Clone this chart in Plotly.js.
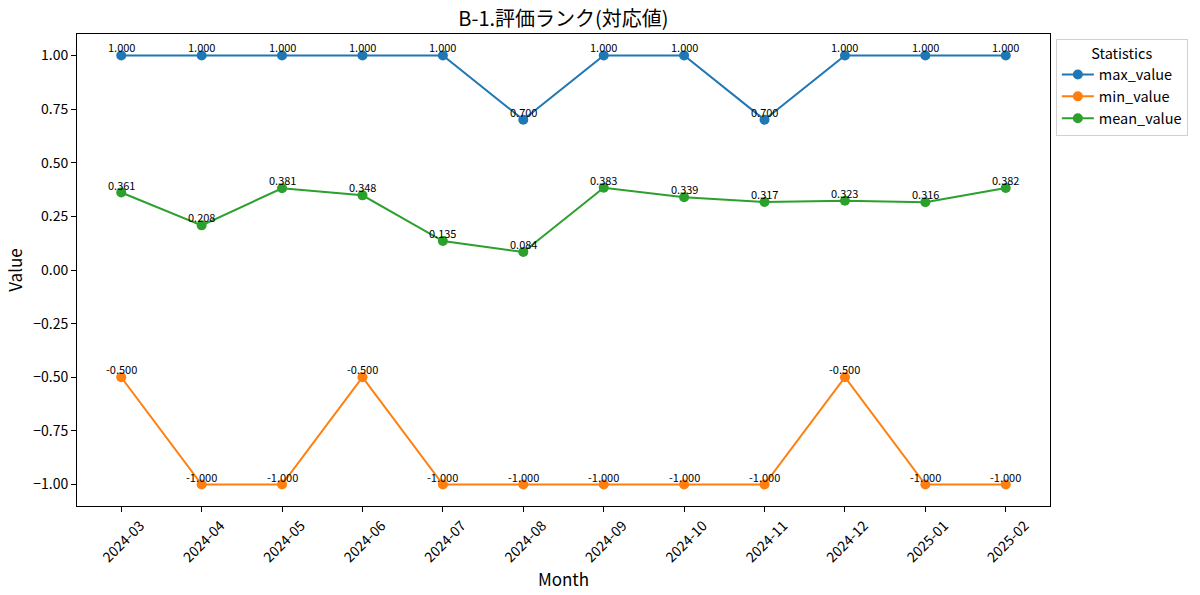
<!DOCTYPE html>
<html>
<head>
<meta charset="utf-8">
<script src="https://cdn.plot.ly/plotly-3.0.1.min.js"></script>
<style>
  html, body { margin: 0; padding: 0; background: #fff; }
  #chart { width: 1200px; height: 595px; }
</style>
</head>
<body>
<div id="chart"></div>
<script>
var months = ['2024-03', '2024-04', '2024-05', '2024-06', '2024-07', '2024-08',
              '2024-09', '2024-10', '2024-11', '2024-12', '2025-01', '2025-02'];
var maxValue = [1.0, 1.0, 1.0, 1.0, 1.0, 0.7, 1.0, 1.0, 0.7, 1.0, 1.0, 1.0];
var minValue = [-0.5, -1.0, -1.0, -0.5, -1.0, -1.0, -1.0, -1.0, -1.0, -0.5, -1.0, -1.0];
var meanValue = [0.361, 0.208, 0.381, 0.348, 0.135, 0.084, 0.383, 0.339, 0.317, 0.323, 0.316, 0.382];

var FONT = '"Noto Sans CJK JP", "Noto Sans", sans-serif';
var idx = months.map(function (m, i) { return i; });

var series = [
    { name: 'max_value', y: maxValue, color: '#1f77b4' },
    { name: 'min_value', y: minValue, color: '#ff7f0e' },
    { name: 'mean_value', y: meanValue, color: '#2ca02c' }
];

var traces = series.map(function (s) {
    return {
        x: idx,
        y: s.y,
        name: s.name,
        type: 'scatter',
        mode: 'lines+markers',
        line: { color: s.color, width: 2 },
        marker: { color: s.color, size: 10 },
        hoverinfo: 'x+y'
    };
});

// value labels above each point
var annotations = [];
series.forEach(function (s) {
    s.y.forEach(function (v, i) {
        annotations.push({
            x: i, y: v, xref: 'x', yref: 'y',
            text: v.toFixed(3),
            showarrow: false,
            xanchor: 'center', yanchor: 'bottom',
            yshift: -2,
            font: { family: FONT, size: 11, color: '#000' }
        });
    });
});

var layout = {
    width: 1200,
    height: 595,
    margin: { l: 77, r: 148, t: 34, b: 89 },
    paper_bgcolor: '#fff',
    plot_bgcolor: '#fff',
    font: { family: FONT, size: 14, color: '#000' },
    title: {
        text: 'B-1.評価ランク(対応値)',
        font: { family: FONT, size: 20, color: '#000' },
        xref: 'paper', x: 0.5, xanchor: 'center',
        yref: 'container', y: 0.968, yanchor: 'middle'
    },
    xaxis: {
        range: [-0.55, 11.55],
        tickmode: 'array',
        tickvals: idx,
        ticktext: months,
        tickangle: -45,
        ticklabelshift: 19,
        ticks: 'outside', ticklen: 5, tickwidth: 1, tickcolor: '#000',
        showgrid: false, zeroline: false,
        showline: true, linecolor: '#000', linewidth: 1, mirror: true,
        tickfont: { family: FONT, size: 14 },
        title: { text: 'Month', font: { family: FONT, size: 17 }, standoff: 4 }
    },
    yaxis: {
        range: [-1.1, 1.1],
        tickmode: 'linear', tick0: -1, dtick: 0.25,
        tickformat: '.2f',
        ticks: 'outside', ticklen: 5, tickwidth: 1, tickcolor: '#000',
        showgrid: false, zeroline: false,
        showline: true, linecolor: '#000', linewidth: 1, mirror: true,
        tickfont: { family: FONT, size: 14 },
        title: { text: 'Value', font: { family: FONT, size: 17 }, standoff: 6 }
    },
    showlegend: true,
    legend: {
        x: 1.006, xanchor: 'left',
        y: 0.99, yanchor: 'top',
        bgcolor: '#fff',
        bordercolor: '#d0d0d0', borderwidth: 1,
        font: { family: FONT, size: 14.5 },
        title: { text: 'Statistics', side: 'top center', font: { family: FONT, size: 14.5 } },
        itemwidth: 32,
        tracegroupgap: 0
    },
    annotations: annotations
};

Plotly.newPlot('chart', traces, layout, { displayModeBar: false, staticPlot: true });
</script>
</body>
</html>
